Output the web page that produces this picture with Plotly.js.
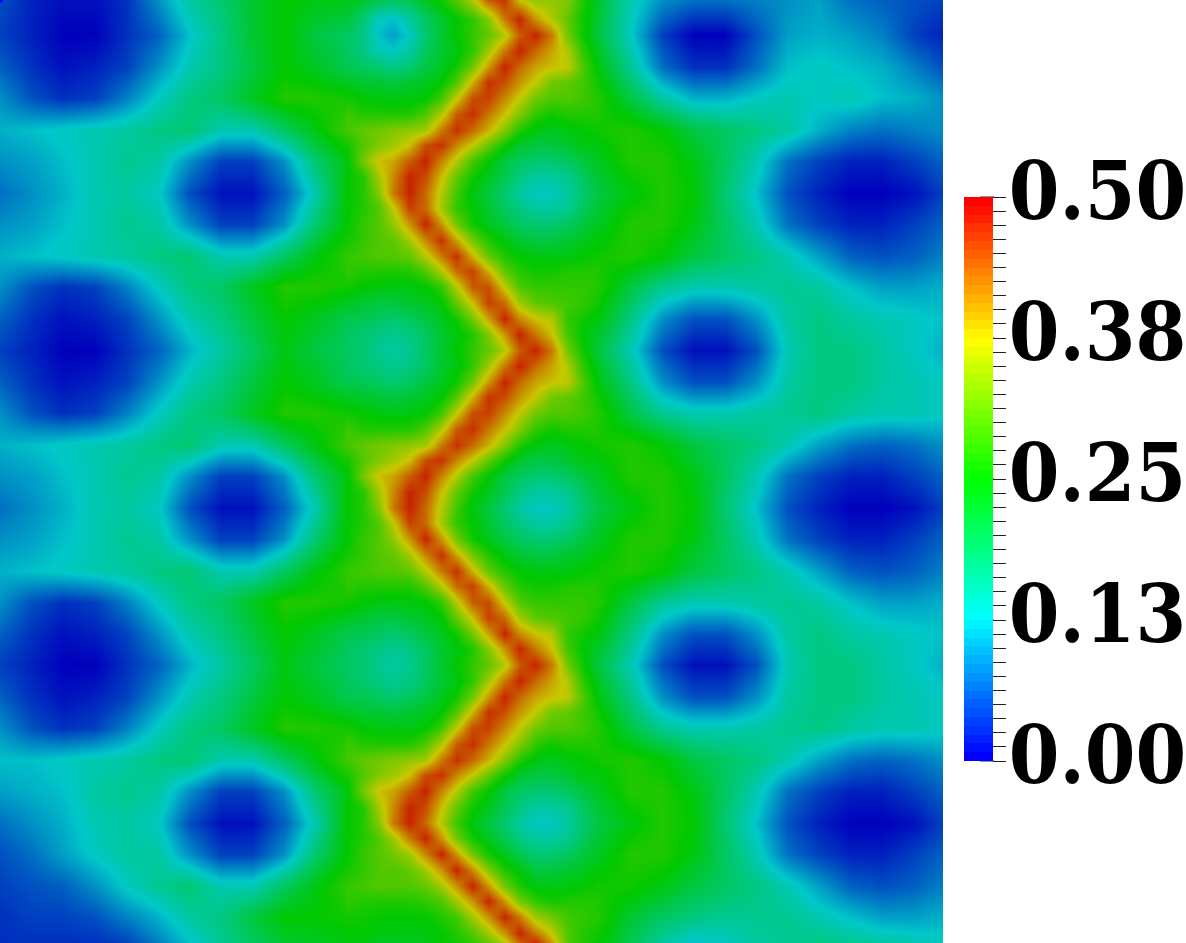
<!DOCTYPE html>
<html>
<head>
<meta charset="utf-8">
<script src="https://cdn.plot.ly/plotly-3.0.1.min.js"></script>
<style>
  html, body { margin: 0; padding: 0; background: #fff; overflow: hidden; }
  #chart { width: 1186px; height: 943px; }
  /* pull the big bar labels in so they fit the page */
  .cbaxis g { transform: translate(-13px, -6px); }
</style>
</head>
<body>
<div id="chart"></div>
<script>
// sample positions of the field, in image pixels
const gridX = [0,31.5,63,94.5,126,157.5,189,220.5,252,283.5,315,346.5,378,409.5,441,472.5,504,535.5,567,598.5,630,661.5,693,724.5,756,787.5,819,850.5,882,913.5,943];
const gridY = [0,35,66.5,98,129.5,161,192.5,224,255.5,287,318.5,350,381.5,413,444.5,476,507.5,539,570.5,602,633.5,665,696.5,728,759.5,791,822.5,854,885.5,917,943];

// field values, in hundredths
const fieldRows = [
  [5,2,1,1,3,9,15,18,22,25,24,24,19,19,25,34,48,34,33,22,14,9,7,7,8,9,10,7,6,5,4],
  [4,2,0,0,3,6,12,17,22,25,21,19,11,11,18,24,33,47,30,21,13,4,0,0,5,10,11,10,8,4,2],
  [6,3,1,2,4,9,14,17,21,25,23,20,14,14,20,28,44,46,36,24,16,7,3,3,7,12,13,12,11,8,5],
  [9,5,3,4,8,13,17,19,23,27,27,26,23,24,29,45,42,33,30,27,21,15,11,11,13,14,13,14,12,11,9],
  [11,12,13,14,15,17,18,14,14,19,24,29,32,38,46,44,31,24,23,26,27,25,21,19,17,15,11,8,7,8,9],
  [9,10,12,14,16,15,9,4,4,9,18,24,39,47,38,27,20,16,17,23,27,27,24,19,14,7,4,2,2,4,6],
  [7,9,11,14,15,13,5,1,1,6,14,25,32,48,34,22,16,13,14,21,24,27,25,18,12,5,2,0,0,1,4],
  [9,10,12,14,16,15,9,4,4,9,18,25,31,41,40,27,20,16,17,23,27,27,24,19,14,7,4,2,2,4,6],
  [11,12,13,14,15,17,18,14,14,19,24,28,31,35,46,40,27,22,22,26,27,25,21,19,17,14,10,6,5,6,8],
  [9,5,3,4,8,13,17,19,23,27,27,26,24,26,32,47,38,30,29,27,21,16,14,14,15,16,15,12,10,10,11],
  [6,3,1,2,4,9,14,17,21,25,23,20,17,17,22,31,48,40,28,24,17,9,5,5,9,15,17,15,14,13,12],
  [4,2,0,0,3,6,11,15,19,24,21,19,15,15,17,24,36,48,33,21,14,5,1,1,5,14,17,17,15,13,11],
  [6,3,1,2,4,9,14,17,21,25,23,20,17,17,21,28,44,46,36,24,17,9,5,5,9,15,17,17,15,14,13],
  [9,5,3,4,8,13,17,19,23,27,27,26,24,25,29,45,42,33,30,27,21,16,14,14,15,16,17,15,14,14,13],
  [11,12,13,14,15,17,18,14,14,19,24,29,32,38,46,44,31,24,23,26,27,25,21,19,17,14,10,7,6,7,9],
  [9,10,12,14,16,15,9,4,4,9,18,24,39,47,38,27,20,16,17,23,27,27,24,19,14,7,4,2,2,4,6],
  [7,9,11,14,15,13,5,1,1,6,14,25,32,48,34,22,16,13,14,21,24,27,25,18,12,5,2,0,0,1,4],
  [9,10,12,14,16,15,9,4,4,9,18,25,31,41,40,27,20,16,17,23,27,27,24,19,14,7,4,2,2,4,6],
  [11,12,13,14,15,17,18,14,14,19,24,28,31,35,46,40,27,22,22,26,27,25,21,19,17,14,10,6,5,6,8],
  [9,5,3,4,8,13,17,19,23,27,27,26,24,26,32,47,38,30,29,27,21,16,14,14,15,16,15,12,10,10,11],
  [6,3,1,2,4,9,14,17,21,25,23,20,17,17,22,31,48,40,28,24,17,9,5,5,9,15,17,15,14,13,12],
  [4,2,0,0,3,6,11,15,19,24,21,19,15,15,17,24,36,48,33,21,14,5,1,1,5,14,17,17,15,13,11],
  [6,3,1,2,4,9,14,17,21,25,23,20,17,17,21,28,44,46,36,24,17,9,5,5,9,15,17,17,15,14,13],
  [9,5,3,4,8,13,17,19,23,27,27,26,24,25,29,45,42,33,30,27,21,16,14,14,15,16,17,15,14,14,13],
  [12,12,13,14,15,17,18,14,14,19,24,29,32,38,46,44,31,24,23,26,27,25,21,19,17,14,10,7,6,7,9],
  [10,11,12,15,16,15,9,4,4,9,18,24,39,47,38,27,20,16,17,23,27,27,24,19,14,7,4,2,2,4,6],
  [7,9,11,14,15,13,5,1,1,6,14,25,32,48,34,22,16,13,14,21,24,27,25,18,12,5,2,0,0,1,4],
  [5,7,10,13,15,15,9,4,4,9,18,25,31,41,40,27,20,16,17,23,27,27,24,19,14,7,4,2,2,4,6],
  [4,5,6,9,13,16,18,14,14,19,24,28,31,35,42,47,33,24,23,26,26,24,21,19,17,14,10,6,5,6,8],
  [3,4,4,5,8,11,15,17,21,25,25,26,24,25,29,33,47,38,30,27,22,19,17,16,16,16,14,12,10,10,11],
  [3,3,3,3,4,8,12,16,19,22,23,24,21,22,24,27,36,48,30,25,20,15,12,13,15,16,17,16,15,14,13]
];

// finer samples over the narrow ridge in the middle
const ridgeX = [346.5,362.25,378,393.75,409.5,425.25,441,456.75,472.5,488.25,504,519.75,535.5,551.25,567,582.75,598.5];
const ridgeY = [0,19.25,35,50.75,66.5,82.25,98,113.75,129.5,145.25,161,176.75,192.5,208.25,224,239.75,255.5,271.25,287,302.75,318.5,334.25,
  350,365.75,381.5,397.25,413,428.75,444.5,460.25,476,491.75,507.5,523.25,539,554.75,570.5,586.25,602,617.75,633.5,649.25,
  665,680.75,696.5,712.25,728,743.75,759.5,775.25,791,806.75,822.5,838.25,854,869.75,885.5,901.25,917,932.75,943];
const ridgeRows = [
  [24,22,20,19,20,23,26,30,36,45,48,38,34,34,33,27,22],
  [21,18,13,12,15,19,22,25,28,33,43,49,41,36,31,26,22],
  [19,17,12,10,13,18,22,25,28,31,36,45,49,43,32,26,21],
  [19,17,14,13,15,19,22,24,28,35,43,49,44,40,36,28,23],
  [20,19,18,17,18,21,23,26,32,41,49,44,40,38,37,30,24],
  [23,22,22,21,22,23,25,30,39,48,46,41,37,32,31,29,26],
  [26,25,24,24,24,25,29,37,46,47,42,37,32,30,30,29,27],
  [29,27,27,27,27,30,36,45,48,43,38,33,28,26,27,27,27],
  [29,31,32,33,34,35,43,48,44,39,33,27,24,23,24,25,26],
  [26,30,33,35,38,46,48,42,37,31,26,22,21,21,22,24,24],
  [24,32,38,40,45,49,42,36,29,25,21,19,18,18,19,21,23],
  [25,27,35,42,49,46,38,31,26,23,20,17,15,15,16,19,22],
  [25,27,33,43,49,44,36,29,24,21,18,15,13,13,15,18,21],
  [25,27,30,37,47,44,35,28,25,22,19,17,15,15,16,19,22],
  [25,28,30,34,41,49,41,32,26,23,21,19,18,18,19,21,23],
  [26,28,30,31,35,42,48,40,32,27,24,22,21,21,22,23,25],
  [28,29,30,30,31,36,43,48,39,31,27,25,24,24,24,25,26],
  [28,27,27,27,27,30,36,44,47,39,31,27,26,26,27,27,27],
  [26,25,24,24,24,25,28,36,45,46,37,30,28,28,28,28,27],
  [23,22,21,21,22,23,25,31,38,47,44,35,31,30,29,28,26],
  [20,20,19,18,19,21,23,26,32,40,49,42,38,36,28,26,24],
  [19,18,17,16,17,19,22,24,27,33,41,49,43,38,29,25,22],
  [19,18,16,15,16,19,22,25,28,31,36,45,49,43,32,26,21],
  [19,18,17,16,17,19,22,24,28,35,43,49,44,40,36,28,23],
  [20,20,19,18,19,21,23,26,32,41,49,44,40,38,37,30,24],
  [23,22,22,21,22,23,25,30,39,48,46,41,37,32,31,29,26],
  [26,25,24,24,24,25,29,37,46,47,42,37,32,30,30,29,27],
  [29,27,27,27,27,30,36,45,48,43,38,33,28,26,27,27,27],
  [29,31,32,33,34,35,43,48,44,39,33,27,24,23,24,25,26],
  [26,30,33,35,38,46,48,42,37,31,26,22,21,21,22,24,24],
  [24,32,38,40,45,49,42,36,29,25,21,19,18,18,19,21,23],
  [25,27,35,42,49,46,38,31,26,23,20,17,15,15,16,19,22],
  [25,27,33,43,49,44,36,29,24,21,18,15,13,13,15,18,21],
  [25,27,30,37,47,44,35,28,25,22,19,17,15,15,16,19,22],
  [25,28,30,34,41,49,41,32,26,23,21,19,18,18,19,21,23],
  [26,28,30,31,35,42,48,40,32,27,24,22,21,21,22,23,25],
  [28,29,30,30,31,36,43,48,39,31,27,25,24,24,24,25,26],
  [28,27,27,27,27,30,36,44,47,39,31,27,26,26,27,27,27],
  [26,25,24,24,24,25,28,36,45,46,37,30,28,28,28,28,27],
  [23,22,21,21,22,23,25,31,38,47,44,35,31,30,29,28,26],
  [20,20,19,18,19,21,23,26,32,40,49,42,38,36,28,26,24],
  [19,18,17,16,17,19,22,24,27,33,41,49,43,38,29,25,22],
  [19,18,16,15,16,19,22,25,28,31,36,45,49,43,32,26,21],
  [19,18,17,16,17,19,22,24,28,35,43,49,44,40,36,28,23],
  [20,20,19,18,19,21,23,26,32,41,49,44,40,38,37,30,24],
  [23,22,22,21,22,23,25,30,39,48,46,41,37,32,31,29,26],
  [26,25,24,24,24,25,29,37,46,47,42,37,32,30,30,29,27],
  [29,27,27,27,27,30,36,45,48,43,38,33,28,26,27,27,27],
  [29,31,32,33,34,35,43,48,44,39,33,27,24,23,24,25,26],
  [26,30,33,35,38,46,48,42,37,31,26,22,21,21,22,24,24],
  [24,32,38,40,45,49,42,36,29,25,21,19,18,18,19,21,23],
  [25,27,35,42,49,46,38,31,26,23,20,17,15,15,16,19,22],
  [25,27,33,43,49,44,36,29,24,21,18,15,13,13,15,18,21],
  [25,27,30,35,43,49,41,32,26,23,20,17,15,15,16,19,22],
  [25,28,30,32,35,42,49,41,32,26,23,20,18,18,19,21,23],
  [26,28,30,30,31,35,41,49,42,33,27,24,21,21,22,23,25],
  [28,29,30,30,30,31,35,41,49,41,32,27,24,24,24,25,26],
  [28,27,27,27,27,28,30,35,41,49,41,32,28,26,27,27,27],
  [26,26,25,25,25,25,27,29,35,41,49,43,35,32,29,28,27],
  [25,25,24,24,24,24,25,27,30,35,41,49,43,37,30,27,26],
  [24,24,23,23,23,24,25,26,28,31,36,44,49,41,30,27,25]
];

const tickLabels = ['0.00', '0.13', '0.25', '0.38', '0.50'];
const tickSteps = 40;     // small ticks on the colour bar
const barBands = 64;      // flat bands in the colour bar

const scaleStops = [0, 0.25, 0.5, 0.75, 1];
const barColors = [[0,0,255], [0,255,255], [0,255,0], [255,255,0], [255,0,0]];
// the field is drawn a bit darker than its legend
const fieldColors = ['rgb(0,0,188)', 'rgb(0,200,200)', 'rgb(0,200,0)', 'rgb(200,200,0)', 'rgb(200,20,0)'];

function barColorAt(t) {
    let i = Math.min(Math.floor(t * 4), 3);
    const f = t * 4 - i;
    const c = barColors[i].map((v, k) => Math.round(v + (barColors[i + 1][k] - v) * f));
    return `rgb(${c[0]},${c[1]},${c[2]})`;
}

const barScale = [];
for (let i = 0; i < barBands; i++) {
    const c = barColorAt(i / (barBands - 1));
    barScale.push([i / barBands, c], [(i + 1) / barBands, c]);
}

const tickVals = [];
const tickText = [];
for (let i = 0; i <= tickSteps; i++) {
    tickVals.push(0.5 * i / tickSteps);
    tickText.push(i % 10 === 0 ? tickLabels[i / 10] : '');
}

const W = 1186, H = 943;
const barTop = 197, barLen = 564, barLeft = 964, barWidth = 29;
const fieldScale = scaleStops.map((s, i) => [s, fieldColors[i]]);

// longer marks at the labelled ticks reach back into the bar
const majorTicks = tickLabels.map((_, i) => {
    const y = 1 - (barTop + barLen * (1 - i / 4)) / H;
    return {
        type: 'line', xref: 'paper', yref: 'paper',
        x0: 980 / W, x1: 994 / W, y0: y, y1: y,
        line: { color: '#222', width: 1 }
    };
});

function fieldTrace(x, y, rows) {
    return {
        type: 'heatmap',
        x: x,
        y: y,
        z: rows.map(r => r.map(v => v / 100)),
        zmin: 0,
        zmax: 0.5,
        zsmooth: 'best',
        colorscale: fieldScale,
        showscale: false,
        hoverinfo: 'skip'
    };
}

// a very thin repeated column each side stops the fine patch spilling half a cell over the base
const ridgeEdgeX = [ridgeX[0] - 0.1, ...ridgeX, ridgeX[ridgeX.length - 1] + 0.1];
const ridgeEdgeRows = ridgeRows.map(r => [r[0], ...r, r[r.length - 1]]);

Plotly.newPlot('chart', [
    fieldTrace(gridX, gridY, fieldRows),
    fieldTrace(ridgeEdgeX, ridgeY, ridgeEdgeRows),
    {
        // only here to carry the legend bar
        type: 'scatter',
        mode: 'markers',
        x: [gridX[0]],
        y: [gridY[0]],
        hoverinfo: 'skip',
        marker: {
            size: 0,
            color: [0],
            cmin: 0,
            cmax: 0.5,
            colorscale: barScale,
            showscale: true,
            colorbar: {
                x: barLeft / W,
                xanchor: 'left',
                xpad: 0,
                ypad: 0,
                y: 1 - barTop / H,
                yanchor: 'top',
                lenmode: 'pixels',
                len: barLen,
                thicknessmode: 'pixels',
                thickness: barWidth,
                outlinewidth: 0,
                borderwidth: 0,
                tickmode: 'array',
                tickvals: tickVals,
                ticktext: tickText,
                ticks: 'outside',
                ticklen: 13,
                tickwidth: 1,
                tickcolor: '#222',
                tickfont: { family: '"DejaVu Serif Condensed", "DejaVu Serif"', size: 81, color: '#000', weight: 'bold' }
            }
        }
    }
], {
    width: W,
    height: H,
    margin: { l: 0, r: 0, t: 0, b: 0, autoexpand: false },
    paper_bgcolor: '#fff',
    plot_bgcolor: '#fff',
    showlegend: false,
    xaxis: { domain: [0, 943 / W], range: [0, 943], visible: false, fixedrange: true },
    yaxis: { range: [943, 0], visible: false, fixedrange: true },
    shapes: majorTicks
}, { displayModeBar: false, staticPlot: true });
</script>
</body>
</html>
